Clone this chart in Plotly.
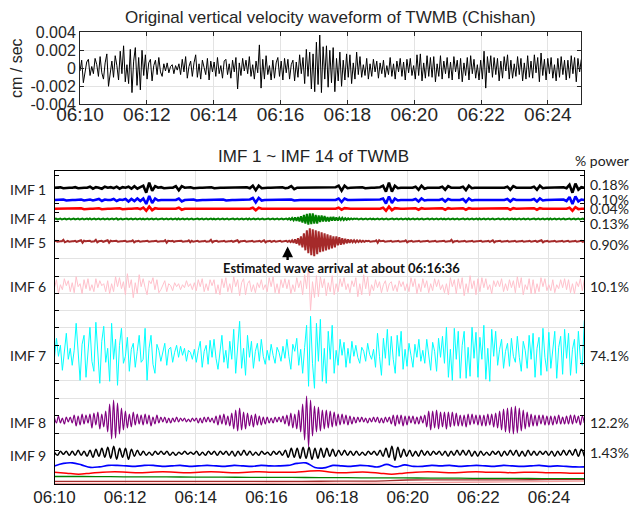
import numpy as np
import pandas as pd
import plotly.graph_objects as go

# ---------------- data ----------------
T0 = pd.Timestamp("2024-01-01 06:10:00")
DURATION_S = 900
ARRIVAL = "2024-01-01 06:16:36"

# original vertical velocity, units of 1e-4 cm/s, 3 s per sample
ORIG = [
    -3, 9, -16, -4, 7, 10, -8, 2, -6, 11,
    4, -9, 13, -5, -12, 6, 16, -20, -2, 8,
    -10, 14, 3, -13, 19, -6, 25, -15, 4, -17,
    21, -27, 8, 23, -19, 12, -24, 20, -8, 15,
    -12, 6, 10, -14, 3, 9, -7, 12, -4, -9,
    5, -3, 6, -5, 2, 4, -6, 3, -2, 5,
    -7, 10, -4, 13, -11, 2, 8, -9, 6, 15,
    -10, 5, -12, 9, 1, -7, 11, -13, 8, -4,
    7, -9, 12, -6, 3, -11, 8, 10, -7, 5,
    -11, 9, -4, 12, -23, 6, -8, 11, -3, 9,
    -6, 13, -9, 4, -12, 8, -5, 26, -22, 10,
    -12, 14, -7, 3, -13, 9, -11, 6, 12, -9,
    8, -13, 11, -5, 10, -12, 4, 9, -14, 7,
    -10, 15, -6, 12, -17, 21, -9, 18, -23, 16,
    -26, 29, -18, 37, -27, 24, -12, 25, -21, 20,
    -16, 23, -26, 11, -14, 18, -20, 9, -13, 16,
    -10, 15, -17, 6, -12, 18, -7, 13, -10, 4,
    -8, 11, -12, 5, -9, 10, -4, 8, -11, 6,
    -6, 9, -10, 3, -7, 12, -9, 5, -12, 8,
    -4, 11, -9, 7, -13, 10, -5, 11, -8, 3,
    -12, 15, -8, 16, -14, 6, -11, 14, -9, 12,
    -10, 13, -15, 5, -9, 14, -12, 8, -6, 12,
    -11, 7, -13, 13, -4, 9, -12, 11, -15, 6,
    -8, 12, -13, 14, -6, 10, -11, 4, -13, 9,
    -12, 19, -22, 13, -5, 14, -10, 12, -7, 11,
    -14, 8, -11, 13, -3, 15, -12, 9, -11, 5,
    -9, 13, -7, 11, -14, 6, -12, 14, -10, 8,
    -11, 15, -5, 12, -15, 17, -8, 10, -13, 11,
    -6, 12, -11, 4, -14, 11, -10, 13, -7, 9,
    -13, 9, -11, 14, -6, 12, -15, 11, -4, 10,
]

# IMF components (relative amplitude units)
IMF1 = [
    0, 0, 0.5, -0.5, 0, 0, 0, 0.5, -0.5, 0, 0, 0, 1, -1, 0.5, 0, -1, 1, 0, 0.5,
    -0.5, 1, -1, 0.5, 0, 1, -1, 1.5, -1, 0.5, 2, -5, 5, -3, 1.5, 0, 0.5, -0.5, 0, 0,
    0, 1.5, -2.5, 1.5, 0, 0, 0.5, -0.5, 0, 0, 0, 0, 0, 0.5, -0.5, 0, 0, 0, 0, 0,
    0, 0, 0, 0, 0, 0.5, -0.5, 2, -2.5, 2, -0.5, 0, 0, 0, 0, 0, 0, 0.5, -0.5, 0,
    1.5, -1.5, 0, 0, 0, 0, 0, 0, 0, 0, 0, 0, 0, 0, 0, 0.5, 2, -3, 2, -0.5,
    0, 0, 0, 0, 0.5, -0.5, 0, 0, 0, 0, 0.5, 2, -4, 5, -4, 2, -0.5, 0, 0, 0,
    0, 0, 1, -2, 2, -1, 0, 0, 0, 0, 0, 1, -2, 1.5, 0, 0, 0, 0, 1, -2.5,
    2, -0.5, 0, 0, 0, 0, 0, 0, 0, 0, 0, 0, 0, 1, -2, 1.5, 0, 0, 0, 0,
    0, 0, 1, -2, 2, -0.5, 0, 0, 0, 0, 0, 0, 0.5, -0.5, 3, -5, 4, -2, 0.5, 0,
]
IMF2 = [
    0, 0, 0, 0.5, -0.5, 0, 0, 0, 0, 0.5, -0.5, 0, 0.5, -0.5, 0, 1, -1, 0.5, 0, 0,
    1, -1, 0.5, 0, 1, -1.5, 1, -1, 1.5, -1, 1.5, -4, 4, -3, 1.5, -0.5, 0, 0, 0, 0,
    0, 0, 1.5, -1.5, 0, 0, 0, 0.5, -0.5, 0, 0, 0, 0, 0, 0, 0, 0, 0.5, -0.5, 0,
    0, 0, 0, 0, 0, 0, 0.5, 2, -2.5, 2, -0.5, 0, 0, 0, 0, 0, 0, 0, 0, 0,
    0.5, -0.5, 0, 0, 0, 0, 0, 0, 0, 0, 0, 0, 0, 0, 0, 0, 1.5, -2, 1.5, 0,
    0, 0, 0, 0, 0, 0, 0, 0, 0, 0, 0.5, 1.5, -3.5, 3.5, -3, 1.5, -0.5, 0, 0, 0,
    0, 0, 1, -1.5, 1.5, -0.5, 0, 0, 0, 0, 0, 1, -1.5, 1, 0, 0, 0, 0, 1, -2,
    1.5, -0.5, 0, 0, 0, 0, 0, 0, 0, 0, 0, 0, 0, 1, -1.5, 1, 0, 0, 0, 0,
    0, 0, 1, -1.5, 1.5, -0.5, 0, 0, 0, 0, 0, 0, 0.5, -1, 3, -4, 3.5, -1.5, 0.5, 0,
]
IMF3 = [
    0, 0, 0, 0, 0, 0, 0, 0, 0, 0.5, -0.5, 0, 0, 0, 0, 0.5, -0.5, 0, 0, 0,
    0, 0, 0.5, -0.5, 0, 0, 0, 0, 0.5, -0.5, 1, -2, 2, -1.5, 0.5, 0, 0, 0, 0, 0,
    0, 0, 1, -1, 0, 0, 0, 0, 0, 0, 0, 0, 0, 0, 0, 0, 0, 0, 0, 0,
    0, 0, 0, 0, 0, 0, 0, 1, -1.5, 1, 0, 0, 0, 0, 0, 0, 0, 0, 0, 0,
    0, 0, 0, 0, 0, 0, 0, 0, 0, 0, 0, 0, 0, 0, 0, 0, 1, -1, 0.5, 0,
    0, 0, 0, 0, 0, 0, 0, 0, 0, 0, 0, 1, -2, 2, -1.5, 0.5, 0, 0, 0, 0,
    0, 0, 0.5, -1, 0.5, 0, 0, 0, 0, 0, 0, 0.5, -1, 0.5, 0, 0, 0, 0, 0.5, -1,
    0.5, 0, 0, 0, 0, 0, 0, 0, 0, 0, 0, 0, 0, 0.5, -1, 0.5, 0, 0, 0, 0,
    0, 0, 0.5, -1, 0.5, 0, 0, 0, 0, 0, 0, 0, 0, 0, 1, -2, 1.5, -0.5, 0, 0,
]
IMF4 = [
    0, 0.4, -0.4, 0, 0.5, -0.5, 0, 0.4, -0.4, 0, 0.5, -0.5,
    0, 0.5, -0.4, 0, 0.4, -0.5, 0, 0.5, -0.5, 0, 0.4, -0.4,
    0.5, -0.5, 0, 0.4, -0.4, 0, 0.5, -0.5, 0, 0.4, -0.4, 0,
    0.4, -0.5, 0, 0.5, -0.4, 0, 0.6, -0.6, 0, 0.4, -0.4, 0,
    0, 0.5, -0.5, 0, 0.4, -0.4, 0, 0.5, -0.5, 0, 0.4, -0.4,
    0.4, -0.4, 0, 0.5, -0.5, 0, 0.4, -0.4, 0, 0.5, -0.5, 0,
    0, 0.4, -0.4, 0, 0.5, -0.5, 0, 0.4, -0.4, 0, 0.5, -0.5,
    0.5, -0.5, 0, 0.4, -0.4, 0, 0.5, -0.5, 0, 0.4, -0.4, 0,
    0, 0.5, -0.4, 0, 0.4, -0.5, 0, 0.5, -0.5, 0, 0.4, -0.4,
    0.4, -0.4, 0, 0.5, -0.5, 0, 0.4, -0.4, 0, 0.5, -0.5, 0,
    0, 0.4, -0.4, 0, 0.5, -0.5, 0, 0.4, -0.4, 0, 0.5, -0.5,
    0.5, -0.5, 0, 0.4, -0.4, 0, 0.5, -0.5, 0, 0.4, -0.4, 0,
    0, 0.5, -0.5, 0, 0.4, -0.4, 0, 0.5, -0.5, 0, 0.4, -0.4,
    0, 0.5, -0.5, 0.6, -0.8, 1, -1.2, 1.5, -1.8, 2, -2.5, 2.8,
    -3.5, 4, -4.5, 5, -5.5, 5.5, -5, 5.5, -4.5, 4, -4.5, 3.5,
    -3, 3.5, -2.5, 3, -2.5, 2, -2.5, 2, -1.5, 2, -1.5, 1.5,
    -1.5, 1.2, -1, 1.2, -1, 0.8, -0.8, 0.6, -0.5, 0.5, -0.4, 0.4,
    0, 0.5, -0.5, 0, 0.4, -0.4, 0, 0.5, -0.5, 0, 0.4, -0.4,
    0.4, -0.4, 0, 0.5, -0.5, 0, 0.4, -0.4, 0, 0.5, -0.5, 0,
    0, 0.4, -0.4, 0, 0.5, -0.5, 0, 0.4, -0.4, 0, 0.5, -0.5,
    0.5, -0.5, 0, 0.4, -0.4, 0, 0.5, -0.5, 0, 0.4, -0.4, 0,
    0, 0.5, -0.5, 0, 0.4, -0.4, 0, 0.5, -0.5, 0, 0.4, -0.4,
    0.4, -0.4, 0, 0.5, -0.5, 0, 0.4, -0.4, 0, 0.5, -0.5, 0,
    0, 0.4, -0.4, 0, 0.5, -0.5, 0, 0.4, -0.4, 0, 0.5, -0.5,
    0.5, -0.5, 0, 0.4, -0.4, 0, 0.5, -0.5, 0, 0.4, -0.4, 0,
    0, 0.5, -0.5, 0, 0.4, -0.4, 0, 0.5, -0.5, 0, 0.4, -0.4,
    0.4, -0.4, 0, 0.5, -0.5, 0, 0.4, -0.4, 0, 0.5, -0.5, 0,
    0, 0.4, -0.4, 0, 0.5, -0.5, 0, 0.4, -0.4, 0, 0.5, -0.5,
    0.5, -0.5, 0, 0.4, -0.4, 0, 0.5, -0.5, 0, 0.4, -0.4, 0,
    0, 0.5, -0.5, 0, 0.4, -0.4, 0, 0.5, -0.5, 0, 0.4, -0.4,
]
IMF5 = [
    0, 0.5, -0.5, 0, 0, 0, 1.5, -1, 0, 0.5, -0.5, 0,
    0, 0, 0.5, -0.5, 0, 0, 1, -1.5, 0.5, 0, 0, 0,
    0.5, -0.5, 0, 0, 1.5, -1, 0, 0, 0.5, -0.5, 0, 0,
    1, -1.5, 0.5, 0, 0, 0, 0.5, -0.5, 0, 0, 0, 0,
    0.5, -0.5, 0, 0, 0, 1, -1, 0, 0, 0.5, -0.5, 0,
    0, 0, 0, 0.5, -0.5, 0, 0, 0, 0, 0.5, -0.5, 0,
    0, 0, 0, 1, -1.5, 0.5, 0, 0, 0.5, -0.5, 0, 0,
    0, 0, 0.5, -0.5, 0, 0, 0, 1, -1, 0.5, -0.5, 0,
    0, 0.5, -0.5, 0, 0, 0, 0.5, -0.5, 0, 0, 1.5, -1,
    0, 0, 0.5, -0.5, 0, 0, 0, 0.5, -0.5, 0, 0, 0,
    0.5, -0.5, 0, 0, 1, -1, 0, 0, 0, 0.5, -0.5, 0,
    0, 0, 0.5, -0.5, 0, 0, 0, 0.5, -0.5, 0, 1, -1,
    0, 0, 0.5, -0.5, 0, 0.5, -0.5, 0, 0, 0.5, -0.5, 0,
    0, 0.5, -0.5, 0.5, -0.8, 1, -1.5, 2, -2.5, 3, -4, 5,
    -6, 8, -9, 11, -12, 13, -14, 12, -15, 11, -13, 10,
    -11, 9, -10, 8, -9, 7, -8, 6, -7, 5, -6, 5,
    -4, 4, -3.5, 3, -3, 2.5, -2, 2, -1.5, 1.5, -1, 1,
    -1, 1, -0.8, 0.8, -0.6, 0.5, -0.5, 0.5, 0, 0.5, -0.5, 0,
    0, 0, 1, -1.5, 1, 0, 0, 0.5, -0.5, 0, 0, 0,
    0.5, -0.5, 0, 0, 0, 0.5, -0.5, 0, 0, 0, 1, -1,
    0, 0, 0.5, -0.5, 0, 0, 0, 0.5, -0.5, 0, 0, 0,
    0, 0.5, -0.5, 0, 0, 0, 0.5, -0.5, 0, 0, 0, 0,
    0.5, -0.5, 0, 0, 0, 1.5, -1, 0, 0, 0.5, -0.5, 0,
    0, 0, 0.5, -0.5, 0, 0, 0, 0.5, -0.5, 0, 0, 0,
    0, 0.5, -0.5, 0, 0, 0, 0.5, -0.5, 0, 1, -1, 0,
    0, 0, 0.5, -0.5, 0, 0, 0, 0.5, -0.5, 0, 0, 0,
    0.5, -0.5, 0, 0, 0, 0.5, -0.5, 0, 0, 0, 0.5, -0.5,
    0, 0, 0.5, -0.5, 0, 0, 1, -1, 0, 0, 0.5, -0.5,
    0, 0, 0, 0.5, -0.5, 0, 0, 0, 0.5, -0.5, 0, 0,
    0.5, -0.5, 0, 0, 0, 0.5, -0.5, 0, 0, 0.5, -0.5, 0,
]
IMF6 = [
    -2, 6, -8, 1, -4, 7, 0, 5, -6,   3, -7, 9, -1, 2, -8, 6, -3, 7,
    -5, 1, -6, 7, -2, 5, 0, 2, -6,   5, -8, 2, -6, 9, -1, 8, -3, 4,
    -9, 12, -2, 6, -12, 3, -8, 11, -1,   7, -2, -9, 5, 2, 8, -4, 6, -7,
    -4, 1, 5, -6, 2, 0, -5, 3, -1,   2, -4, 1, -2, 5, -1, 2, -4, 3,
    -5, 6, -1, 7, -6, 2, -5, 6, 0,   6, -8, 1, -9, 7, -2, 8, -6, 2,
    -7, 9, -1, 6, -10, 3, 7, -9, 2,   5, -6, 1, -7, 3, -2, 6, -4, 1,
    -6, 8, -1, 9, -7, 2, -8, 6, -2,   7, -3, 6, -8, 1, -6, 8, -2, 5,
    -9, 11, -3, 20, -25, 4, -12, 10, -11,   9, -2, 7, -10, 3, -6, 10, -9, 2,
    -6, 7, -1, 8, -4, 2, -7, 5, -1,   8, -11, 2, -9, 11, -3, 9, -10, 1,
    -5, 6, -2, 4, -7, 1, 5, -6, 2,   4, -5, 1, -6, 5, -1, 4, -5, 2,
    -6, 8, -1, 7, -8, 2, -6, 7, -2,   5, -7, 2, -5, 7, -1, 6, -4, 1,
    -7, 2, -9, 8, -1, 6, -8, 7, -3,   8, -10, 2, -7, 10, -3, 5, -9, 7,
    -6, 8, -2, 7, -4, 1, -8, 5, -1,   5, -1, 7, -6, 2, -5, 6, -2, 5,
    -7, 9, -2, 8, -9, 1, -4, 7, -8,   6, -8, 2, -6, 8, -1, 7, -5, 1,
    -5, 6, -7, 1, -3, 6, -2, 7, -4,   6, -7, 2, -8, 4, -1, 7, -5, 6,
]
IMF7 = [
    -4, 15, -3, 8, -17, 2, 20, -6, 5,   -12, 3, 30, -5, -27, 9, 18, -24, 4,
    26, -8, -18, 31, -4, -30, 12, 27, -9,   5, -28, 30, -6, 14, -32, 8, 25, -10,
    -3, 16, -18, 4, 10, -14, 2, 18, -9,   -6, 25, -27, 5, 18, -11, -20, 9, 3,
    -8, 2, 10, -12, 4, 6, -9, 1, 8,   -4, 7, -2, 5, -8, 3, 1, -6, 4,
    -9, 3, 12, -14, 2, 8, -11, 13, -4,   14, -5, -16, 4, 18, -9, 3, -15, 12,
    -6, 24, -20, 3, 32, -15, 5, -22, 18,   -4, 12, -15, 2, 10, -8, 14, -3, -11,
    3, -7, 9, -2, -10, 6, 1, -8, 7,   -5, 14, -3, -16, 9, 2, 15, -12, 4,
    -20, 6, 28, -33, 37, -10, -35, 30, -8,   34, -28, 5, -30, 22, -6, 28, -20, 3,
    -12, 14, -2, 11, -14, 5, -10, 12, -3,   8, -4, -10, 6, 2, -8, 10, -1, -6,
    4, -14, 20, -3, -22, 15, -5, 24, -12,   17, -6, -20, 18, -3, 22, -16, 4, -13,
    10, -2, -14, 9, -4, 14, -8, 3, -10,   14, -5, -17, 11, 2, -18, 15, -4, 17,
    -10, 26, -24, 4, -27, 25, -6, 22, -25,   8, 22, -25, 6, -23, 26, -5, 21, -24,
    16, -6, 28, -26, 5, -28, 24, -3, 22,   -12, 4, 14, -15, 2, 10, -13, 15, -3,
    -9, 17, -4, -18, 12, 3, -15, 18, -6,   20, -24, 5, 16, -22, 25, -4, -18, 21,
    -15, 3, 22, -25, 6, 17, -21, 24, -5,   20, -22, 4, 14, -20, 22, -6, -12, 33,
]
IMF8 = [
    2, -3, 4, -3, 2, -4, 3, -2, 3,   -3, 5, -6, 4, -5, 6, -4, 5, -3,
    6, -8, 7, -5, 8, -9, 6, -7, 9,   -12, 16, -19, 20, -18, 17, -14, 12, -10,
    9, -8, 6, -7, 8, -5, 6, -4, 5,   -5, 6, -4, 5, -6, 3, -4, 5, -3,
    3, -2, 3, -3, 2, -3, 2, -2, 3,   -2, 2, -1, 2, -2, 1, -2, 2, -1,
    2, -3, 2, -3, 3, -2, 3, -2, 2,   -3, 4, -5, 5, -4, 6, -5, 4, -6,
    7, -9, 10, -11, 12, -10, 8, -9, 7,   -6, 5, -7, 6, -5, 4, -5, 3, -4,
    3, -3, 2, -3, 3, -2, 3, -2, 4,   -4, 5, -6, 7, -8, 6, -9, 10, -12,
    16, -20, 24, -27, 20, -16, 14, -12, 13,   -11, 10, -9, 10, -8, 9, -7, 8, -6,
    6, -5, 6, -4, 5, -5, 4, -4, 3,   -3, 3, -2, 3, -2, 2, -3, 2, -2,
    3, -2, 3, -3, 2, -3, 3, -2, 3,   -4, 5, -6, 5, -4, 5, -6, 4, -5,
    4, -3, 4, -4, 3, -4, 4, -3, 5,   -7, 9, -10, 9, -8, 10, -9, 8, -7,
    8, -9, 8, -7, 8, -6, 7, -6, 5,   -6, 5, -7, 6, -5, 6, -4, 5, -5,
    5, -6, 5, -6, 6, -5, 6, -7, 7,   -8, 9, -10, 11, -12, 12, -13, 13, -14,
    14, -13, 12, -11, 10, -9, 8, -7, 6,   -6, 5, -6, 5, -4, 5, -5, 4, -5,
    4, -5, 4, -4, 5, -4, 3, -4, 4,   -4, 5, -4, 5, -3, 4, -5, 4, -3,
]
IMF9 = [
    1, -2, 2, -1, 2, -2,   2, -2, 3, -2, 2, -3,   3, -4, 4, -3, 5, -4,   6, -5, 7, -6, 5, -4,
    5, -6, 4, -3, 3, -2,   2, -2, 1, -2, 2, -1,   2, -1, 2, -2, 1, -2,   1, -1, 2, -1, 1, -1,
    2, -2, 1, -2, 2, -1,   2, -2, 2, -1, 2, -2,   2, -3, 2, -2, 3, -2,   2, -2, 1, -2, 2, -1,
    1, -2, 2, -1, 2, -2,   3, -4, 5, -4, 5, -5,   6, -5, 6, -6, 5, -5,   5, -4, 5, -3, 4, -3,
    3, -2, 3, -2, 2, -2,   2, -2, 1, -2, 2, -1,   2, -2, 3, -3, 5, -4,   7, -7, 6, -4, 4, -3,
    3, -3, 2, -3, 3, -2,   2, -2, 2, -1, 2, -2,   2, -3, 2, -2, 3, -2,   3, -2, 3, -3, 2, -3,
    2, -2, 1, -2, 2, -1,   2, -3, 2, -2, 3, -2,   3, -3, 2, -3, 3, -2,   2, -2, 2, -1, 2, -2,
    2, -3, 2, -2, 3, -2,   3, -2, 4, -3, 4, -3,
]
IMF10 = [
    0, 2.5, 3, 1, -1.5, -1, 0.5, 0.5, 0, -0.5, 0.5, 0.5, -0.5, 0, 0.5, -0.5, 0, 0.5, 0, -0.5,
    0.5, 0, -0.5, 0.5, 0, 0, 0.5, 2.5, 3, -1.5, -2, 0.5, 0, -0.5, 0.5, 0, -1, 1.5, -1, 1,
    -0.5, -0.5, 0.5, 0, 0.5, -0.5, 0, 0.5, 0, -0.5, 0.5, 0, -0.5, 0, 0.5, -0.5, 0, -0.5, -1, -1,
]
IMF11 = [
    0, -1, -2, -1, 0, 0.5, 0, -0.5, 0, 0.5, 0, -0.5, 0, 0.5, 0, -0.5, 0, 0.5, 0, 0,
    0, 1, 1.5, 0, -0.5, 0, 0, -1, -2, -1, 0, 0.5, 0, -0.5, 0, 0.5, 0, 0, -0.5, 0,
    0, -0.5, -0.5, -1, -1,
]
IMF12 = [1, 1, 0.8, 0.6, 0.6, 0.4, 0.3, 0.2, 0.1, 0, -0.1, -0.3, -0.4, -0.5, -0.6, -0.8, -0.9, -1, -1.1, -1.2]
IMF13 = [-0.5, -0.6, -0.6, -0.5, -0.6, -0.5, -0.6, -0.5, -0.4, -0.3, 0.8, 0.9, 1, 1, 1.1, 1.2]
IMF14 = [-0.5, -0.5, -0.6, -0.5, -0.5, -0.4, -0.5, -0.3, 0.3, 0.8, 1.2, 1.6]

IMF_NAMES = ["IMF 1", "IMF 2", "IMF 3", "IMF 4", "IMF 5", "IMF 6", "IMF 7",
             "IMF 8", "IMF 9", "IMF 10", "IMF 11", "IMF 12", "IMF 13", "IMF 14"]
IMF_DATA = [IMF1, IMF2, IMF3, IMF4, IMF5, IMF6, IMF7, IMF8, IMF9, IMF10, IMF11, IMF12, IMF13, IMF14]
LABELED = ["IMF 1", "IMF 4", "IMF 5", "IMF 6", "IMF 7", "IMF 8", "IMF 9"]
POWER_LABELS = ["0.18%", "0.10%", "0.04%", "0.13%", "0.90%", "10.1%", "74.1%", "12.2%", "1.43%"]

# ---------------- styling / layout ----------------
COLORS = ["#000000", "#0000ff", "#ff0000", "#008000", "#a52a2a", "#ffc0cb", "#00ffff",
          "#800080", "#000000", "#0000ff", "#ff0000", "#008000", "#a52a2a", "#f4a0a0"]
WIDTHS = [2.6, 2.6, 2.6, 2.0, 2.0, 1.0, 1.0, 1.2, 1.5, 1.6, 1.5, 1.3, 1.3, 1.3]
SPLINE = [False] * 7 + [True] * 7
# vertical placement of each IMF inside the lower panel (axis units, bottom = 0)
BASE = [296.6, 284.3, 275.6, 265.3, 243.0, 198.6, 131.0, 64.3, 31.0, 18.4, 12.1, 6.8, 3.5, 1.5]
LABEL_Y = {"IMF 1": 189.3, "IMF 4": 218.3, "IMF 5": 242.7, "IMF 6": 286.7,
           "IMF 7": 355.0, "IMF 8": 422.3, "IMF 9": 455.7}
POWER_Y = [184.3, 200.0, 209.0, 223.3, 244.0, 286.7, 355.7, 422.7, 452.3]

W, H = 631, 508
ARIAL = "Liberation Sans, Arial, Helvetica, sans-serif"
CALIBRI = "Lato, Carlito, Calibri, sans-serif"


def px(x):
    return x / W


def py(y):
    return 1 - y / H


def times(values):
    return T0 + pd.to_timedelta(np.linspace(0, DURATION_S, len(values)), unit="s")


fig = go.Figure()

fig.add_trace(go.Scatter(x=times(ORIG), y=np.array(ORIG) * 1e-4, mode="lines",
                         line=dict(color="black", width=1), xaxis="x", yaxis="y",
                         showlegend=False, hoverinfo="skip"))

for name, vals, col, wd, spl, base in zip(IMF_NAMES, IMF_DATA, COLORS, WIDTHS, SPLINE, BASE):
    fig.add_trace(go.Scatter(x=times(vals), y=base + np.array(vals, dtype=float), mode="lines",
                             name=name,
                             line=dict(color=col, width=wd, shape="spline" if spl else "linear"),
                             xaxis="x2", yaxis="y2", showlegend=False, hoverinfo="skip"))

x_range = [T0, T0 + pd.Timedelta(seconds=DURATION_S)]
GRID = "#e3e3e3"

fig.update_layout(
    template="none",
    font=dict(family=ARIAL, size=14, color="#222222"),
    width=W, height=H, margin=dict(l=0, r=0, t=0, b=0, pad=0, autoexpand=False),
    paper_bgcolor="white", plot_bgcolor="white", showlegend=False,
    xaxis=dict(domain=[px(80), px(581.3)], anchor="y", range=x_range, type="date",
               dtick=120000, tick0=T0, tickformat="%H:%M", automargin=False,
               showgrid=True, gridcolor=GRID, gridwidth=1,
               showline=True, linecolor="#262626", linewidth=1, mirror="ticks",
               ticks="inside", ticklen=4, tickcolor="#262626", ticklabelstandoff=-7,
               tickfont=dict(family=ARIAL, size=19, color="#262626"), zeroline=False),
    yaxis=dict(domain=[py(104.3), py(32.3)], anchor="x", range=[-0.004, 0.004],
               tickmode="array", automargin=False,
               tickvals=[-0.004, -0.002, 0, 0.002, 0.004],
               ticktext=["-0.004", "-0.002", "0", "0.002", "0.004"],
               showgrid=True, gridcolor=GRID, gridwidth=1,
               showline=True, linecolor="#262626", linewidth=1, mirror="ticks",
               ticks="inside", ticklen=4, tickcolor="#262626",
               tickfont=dict(family=ARIAL, size=16, color="#262626"), zeroline=False),
    xaxis2=dict(domain=[px(54.5), px(584.3)], anchor="y2", range=x_range, type="date",
                dtick=120000, tick0=T0, tickformat="%H:%M", automargin=False,
                showgrid=True, gridcolor=GRID, gridwidth=1,
                showline=True, linecolor="#000000", linewidth=1, mirror=True,
                ticks="", ticklabelstandoff=-3,
                tickfont=dict(family=ARIAL, size=17, color="#222222"), zeroline=False),
    yaxis2=dict(domain=[py(484.3), py(170.7)], anchor="x2", range=[0, 313.6],
                tickmode="array", automargin=False,
                tickvals=[226.3, 208.3, 191.3, 174.3, 157.3, 104.3, 86.3, 51.3],
                showticklabels=False, showgrid=True, gridcolor=GRID, gridwidth=1,
                showline=True, linecolor="#000000", linewidth=1, mirror="ticks",
                ticks="inside", ticklen=4, tickcolor="#000000",
                minor=dict(tickmode="array",
                           tickvals=[309.3, 296.3, 281.3, 272.3, 263.3, 244.3, 139.3, 121.3, 69.3, 34.0],
                           ticks="inside", ticklen=4, tickcolor="#000000", showgrid=False),
                zeroline=False),
)

ann = []
ann.append(dict(text="Original vertical velocity waveform of TWMB (Chishan)", x=px(330), y=py(17),
                xref="paper", yref="paper", xanchor="center", yanchor="middle", showarrow=False,
                font=dict(family=ARIAL, size=17, color="#262626")))
ann.append(dict(text="cm / sec", x=px(17), y=py(68), xref="paper", yref="paper", textangle=-90,
                xanchor="center", yanchor="middle", showarrow=False,
                font=dict(family=ARIAL, size=16, color="#262626")))
ann.append(dict(text="IMF 1 ~ IMF 14 of TWMB", x=px(313), y=py(156), xref="paper", yref="paper",
                xanchor="center", yanchor="middle", showarrow=False,
                font=dict(family=ARIAL, size=17, color="#222222")))
ann.append(dict(text="% power", x=px(573), y=py(160.7), xref="paper", yref="paper",
                xanchor="left", yanchor="middle", showarrow=False,
                font=dict(family=CALIBRI, size=14, color="#222222")))
for name in LABELED:
    ann.append(dict(text=name, x=px(48.5), y=py(LABEL_Y[name]), xref="paper", yref="paper",
                    xanchor="right", yanchor="middle", showarrow=False,
                    font=dict(family=CALIBRI, size=14, color="#222222")))
for lab, yy in zip(POWER_LABELS, POWER_Y):
    ann.append(dict(text=lab, x=px(588), y=py(yy), xref="paper", yref="paper",
                    xanchor="left", yanchor="middle", showarrow=False,
                    font=dict(family=CALIBRI, size=14, color="#222222")))
ann.append(dict(text="<b>Estimated wave arrival at about 06:16:36</b>", x=px(341), y=py(268),
                xref="paper", yref="paper", xanchor="center", yanchor="middle", showarrow=False,
                font=dict(family=CALIBRI, size=13, color="#111111")))
ann.append(dict(text="", x=pd.Timestamp(ARRIVAL), y=484.3 - 246.5, xref="x2", yref="y2",
                showarrow=True, ax=0, ay=15, arrowhead=2, arrowsize=0.9, arrowwidth=2.4,
                arrowcolor="black"))
fig.update_layout(annotations=ann)

fig.write_html("out.html", config={"displayModeBar": False, "staticPlot": True},
               post_script="document.body.style.margin='0';document.body.style.padding='0';")
